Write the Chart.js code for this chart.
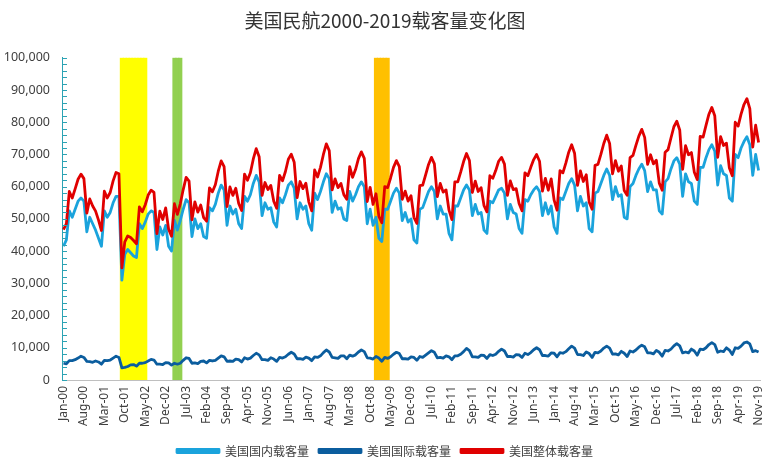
<!DOCTYPE html>
<html lang="zh-CN">
<head>
  <meta charset="UTF-8">
  <title>美国民航2000-2019载客量变化图</title>
  <script src="https://cdn.jsdelivr.net/npm/chart.js"></script>
  <style>
    html, body { margin: 0; padding: 0; background: #fff; }
    #wrap { width: 779px; height: 473px; }
  </style>
</head>
<body>
  <div id="wrap"><canvas id="chart"></canvas></div>

  <script>
    // 月份标签 Jan-00 ... Nov-19
    const monthNames = ['Jan','Feb','Mar','Apr','May','Jun','Jul','Aug','Sep','Oct','Nov','Dec'];
    const labels = [];
    for (let y = 0; y <= 19; y++) {
      for (let m = 0; m < 12; m++) {
        if (y === 19 && m > 10) break;
        labels.push(monthNames[m] + '-' + String(y).padStart(2, '0'));
      }
    }

    // 美国国内载客量
    const domestic = [
      41500, 43500, 52500, 50500, 53000, 55500, 56500, 55500, 46000, 50500, 48500, 46500,
      44000, 41500, 52500, 50500, 52000, 55000, 57000, 57000, 31000, 39000, 40500, 39500,
      38500, 38000, 48500, 47000, 49000, 51500, 52500, 52000, 40500, 47500, 45000, 48000,
      41500, 40000, 49500, 46500, 49500, 53000, 56000, 55000, 44500, 50000, 47000, 48500,
      44500, 44000, 53500, 52500, 54500, 58000, 60500, 59000, 48000, 54000, 51500, 53000,
      48500, 47000, 57000, 55500, 57500, 61000, 63500, 61500, 51000, 55000, 53000, 53500,
      49000, 47500, 56500, 55000, 57500, 60500, 61500, 59500, 50000, 55000, 53000, 54000,
      48500, 46500, 58000, 56000, 58500, 61500, 64000, 62500, 52000, 55500, 53000, 53500,
      50000, 49500, 58500, 55500, 57500, 60000, 61500, 60000, 48500, 53000, 48000, 50500,
      44000, 43000, 53000, 53000, 55500, 58000, 59500, 58000, 49500, 52000, 49000, 50000,
      43500, 42500, 53000, 53500, 56000, 58500, 60000, 58500, 50000, 54000, 51500, 51500,
      45500, 43500, 54000, 54000, 56500, 59000, 60500, 59000, 51000, 54500, 51500, 52000,
      46500, 45500, 55500, 55000, 57000, 59000, 59500, 58000, 50000, 54500, 52000, 51500,
      47000, 45500, 56000, 55500, 57500, 59000, 60000, 58500, 51000, 55000, 51500, 54000,
      47500, 45500, 56500, 56000, 58500, 61000, 62500, 60500, 52500, 57000, 54000, 55000,
      47000, 46000, 58000, 58500, 61000, 63500, 65500, 63500, 56000, 60000, 57000, 57500,
      50500, 50000, 60000, 61000, 63500, 65500, 67000, 65000, 58500, 61500, 59000, 59000,
      52500, 51500, 61500, 62500, 65500, 68000, 69000, 67000, 57000, 64000, 61500, 61000,
      55500, 54500, 66000, 66000, 69000, 71500, 73000, 71000, 60500, 66500, 64000, 63500,
      56500, 55500, 70000, 69000, 72000, 74000, 75500, 73000, 63500, 70000, 65000
    ];

    // 美国国际载客量
    const international = [
      5200, 5000, 6000, 6000, 6300, 6800, 7400, 7000, 5800, 5700, 5500, 5900,
      5600, 4900, 6100, 6000, 6200, 6800, 7400, 7000, 3800, 3900, 4200, 4700,
      4800, 4300, 5200, 5200, 5400, 5900, 6400, 6200, 4900, 4900, 4800, 5400,
      5300, 4600, 5200, 4900, 5200, 6100, 6900, 6700, 5200, 5300, 5100, 5800,
      5900, 5300, 6100, 5900, 6100, 6800, 7500, 7200, 5800, 5900, 5800, 6500,
      6300, 5600, 6900, 6500, 6800, 7600, 8300, 7800, 6300, 6300, 6100, 6900,
      6500, 5800, 7000, 6800, 7200, 8000, 8600, 8100, 6600, 6600, 6400, 7100,
      6800, 6000, 7200, 7000, 7500, 8500, 9300, 8700, 7000, 6900, 6700, 7500,
      7500, 6600, 7700, 7400, 7800, 8700, 9300, 8800, 6900, 6800, 6500, 7300,
      6800, 5800, 7000, 6700, 7200, 8000, 8600, 8200, 6600, 6600, 6500, 7200,
      7000, 6100, 7300, 7000, 7700, 8400, 9100, 8600, 6900, 7000, 6800, 7500,
      7200, 6300, 7500, 7500, 8000, 8800, 9800, 9100, 7200, 7200, 7000, 7700,
      7600, 6700, 7900, 7600, 8000, 8900, 9600, 9000, 7300, 7300, 7100, 7900,
      7800, 7000, 8300, 7900, 8500, 9400, 10000, 9400, 7600, 7600, 7400, 8400,
      8300, 7200, 8500, 8300, 8800, 9700, 10500, 9900, 7900, 7900, 7600, 8700,
      8200, 7000, 8600, 8400, 9000, 9900, 10500, 9900, 8000, 8100, 7800, 8900,
      8300, 7300, 9000, 8700, 9300, 10200, 10800, 10300, 8400, 8400, 8100, 9200,
      8600, 7400, 9200, 9000, 9600, 10600, 11300, 10600, 8400, 8700, 8400, 9600,
      9000, 7700, 9600, 9400, 10000, 11000, 11600, 11000, 8600, 9000, 8800, 10000,
      9300, 7900, 10000, 9800, 10500, 11500, 11800, 11200, 8800, 9100, 8700
    ];

    // 美国整体载客量
    const total = [
      46700, 48500, 58500, 56500, 59300, 62300, 63900, 62500, 51800, 56200, 54000, 52400,
      49600, 46400, 58600, 56500, 58200, 61800, 64400, 64000, 34800, 42900, 44700, 44200,
      43300, 42300, 53700, 52200, 54400, 57400, 58900, 58200, 45400, 52400, 49800, 53400,
      46800, 44600, 54700, 51400, 54700, 59100, 62900, 61700, 49700, 55300, 52100, 54300,
      50400, 49300, 59600, 58400, 60600, 64800, 68000, 66200, 53800, 59900, 57300, 59500,
      54800, 52600, 63900, 62000, 64300, 68600, 71800, 69300, 57300, 61300, 59100, 60400,
      55500, 53300, 63500, 61800, 64700, 68500, 70100, 67600, 56600, 61600, 59400, 61100,
      55300, 52500, 65200, 63000, 66000, 70000, 73300, 71200, 59000, 62400, 59700, 61000,
      57500, 56100, 66200, 62900, 65300, 68700, 70800, 68800, 55400, 59800, 54500, 57800,
      50800, 48800, 60000, 59700, 62700, 66000, 68100, 66200, 56100, 58600, 55500, 57200,
      50500, 48600, 60300, 60500, 63700, 66900, 69100, 67100, 56900, 61000, 58300, 59000,
      52700, 49800, 61500, 61500, 64500, 67800, 70300, 68100, 58200, 61700, 58500, 59700,
      54100, 52200, 63400, 62600, 65000, 67900, 69100, 67000, 57300, 61800, 59100, 59400,
      54800, 52500, 64300, 63400, 66000, 68400, 70000, 67900, 58600, 62600, 58900, 62400,
      55800, 52700, 65000, 64300, 67300, 70700, 73000, 70400, 60400, 64900, 61600, 63700,
      55200, 53000, 66600, 66900, 70000, 73400, 76000, 73400, 64000, 68100, 64800, 66400,
      58800, 57300, 69000, 69700, 72800, 75700, 77800, 75300, 66900, 69900, 67100, 68200,
      61100, 58900, 70700, 71500, 75100, 78600, 80300, 77600, 65400, 72700, 69900, 70600,
      64500, 62200, 75600, 75400, 79000, 82500, 84600, 82000, 69100, 75500, 72800, 73500,
      65800, 63400, 80000, 78800, 82500, 85500, 87300, 84200, 72300, 79100, 73700
    ];

    // 阴影区间 (起止月份)
    const periodStart = ['Sep-01', 'Mar-03', 'Dec-08'];
    const periodEnd   = ['May-02', 'May-03', 'Apr-09'];
    const periodColor = ['#FFFF00', '#92D050', '#FFC000'];
    const yMax = 100000;

    const bandSets = periodStart.map((s, k) => {
      const a = labels.indexOf(s), b = labels.indexOf(periodEnd[k]);
      return {
        type: 'bar',
        label: 'band' + k,
        data: labels.map((_, i) => (i >= a && i <= b) ? yMax : null),
        backgroundColor: periodColor[k],
        borderWidth: 0,
        grouped: false,
        barPercentage: 1,
        categoryPercentage: 1,
        inflateAmount: 0.6,
        order: 10
      };
    });

    // y 轴内侧刻度线
    const innerTicks = {
      id: 'innerTicks',
      afterDraw(chart) {
        const ys = chart.scales.y, ctx = chart.ctx;
        ctx.save();
        ctx.strokeStyle = '#2CA3B4';
        ctx.lineWidth = 1;
        ys.ticks.forEach(t => {
          const py = Math.round(ys.getPixelForValue(t.value)) + 0.5;
          ctx.beginPath();
          ctx.moveTo(ys.right, py);
          ctx.lineTo(ys.right + 5, py);
          ctx.stroke();
        });
        ctx.restore();
      }
    };

    const lineStyle = { type: 'line', pointRadius: 0, borderWidth: 2.8, tension: 0, fill: false, borderJoinStyle: 'round' };

    new Chart(document.getElementById('chart'), {
      data: {
        labels: labels,
        datasets: [
          Object.assign({}, lineStyle, { label: '美国国内载客量', data: domestic, borderColor: '#1AA3DC', backgroundColor: '#1AA3DC', order: 3 }),
          Object.assign({}, lineStyle, { label: '美国国际载客量', data: international, borderColor: '#0B5D9E', backgroundColor: '#0B5D9E', order: 2 }),
          Object.assign({}, lineStyle, { label: '美国整体载客量', data: total, borderColor: '#E00000', backgroundColor: '#E00000', order: 1 })
        ].concat(bandSets)
      },
      options: {
        responsive: true,
        maintainAspectRatio: false,
        animation: false,
        layout: { padding: { left: 0, right: 9, top: 0, bottom: 6 } },
        plugins: {
          title: {
            display: true,
            text: '美国民航2000-2019载客量变化图',
            color: '#333',
            font: { family: '"Noto Sans CJK SC", sans-serif', size: 19, weight: 'normal' },
            padding: { top: 9, bottom: 26 }
          },
          legend: {
            position: 'bottom',
            labels: {
              filter: item => !String(item.text).startsWith('band'),
              sort: (a, b) => a.datasetIndex - b.datasetIndex,
              boxWidth: 42,
              boxHeight: 3,
              color: '#404040',
              padding: 10,
              font: { family: '"Noto Sans CJK SC", sans-serif', size: 12 }
            }
          },
          tooltip: { enabled: false }
        },
        scales: {
          x: {
            offset: true,
            grid: { display: false, drawTicks: false },
            border: { display: true, color: '#BFBFBF', width: 1 },
            afterFit: s => { s.height = 55; },
            ticks: {
              autoSkip: false,
              maxRotation: 90,
              minRotation: 90,
              color: '#404040',
              padding: 6,
              font: { family: '"Noto Sans", sans-serif', size: 12 },
              callback: (v, i) => (i % 7 === 0 ? labels[i] : '')
            }
          },
          y: {
            min: 0,
            max: yMax,
            grid: { display: false, drawTicks: false },
            border: { display: true, color: '#2CA3B4', width: 1 },
            afterFit: s => { s.width = 62; },
            ticks: {
              stepSize: 2000,
              autoSkip: false,
              color: '#404040',
              padding: 12,
              font: { family: '"Noto Sans", sans-serif', size: 12.5 },
              callback: v => (v % 10000 === 0 ? v.toLocaleString('en-US') : '')
            }
          }
        }
      },
      plugins: [innerTicks]
    });
  </script>
</body>
</html>
